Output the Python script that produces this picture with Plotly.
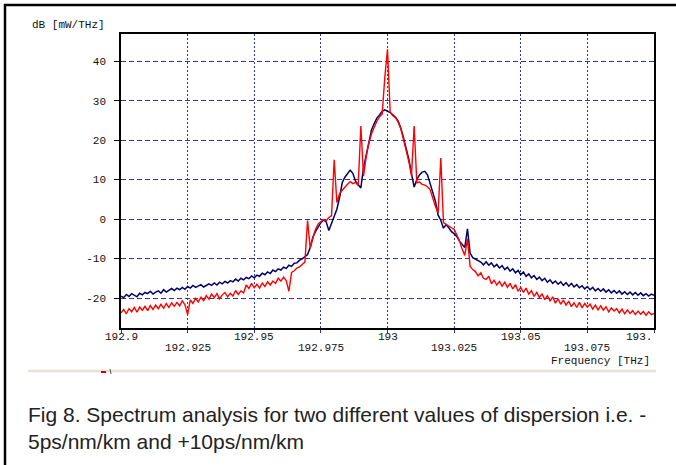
import numpy as np
import plotly.graph_objects as go

# ---------------- data ----------------
# sample grid (THz), 0.001 THz spacing from 192.900 to 193.100
freq_thz = np.round(192.900 + 0.001 * np.arange(201), 3)

# navy trace (dB [mW/THz])
db_navy = [
    -19.5, -19.9, -19.1, -19.6, -18.9, -19.3, -19.7, -18.8, -19.2, -18.6,
    -18.9, -18.3, -19.0, -18.5, -18.2, -18.8, -17.9, -18.5, -18.0, -17.6,
    -18.1, -17.5, -17.9, -17.3, -17.8, -17.1, -17.5, -16.8, -17.3, -17.0,
    -16.6, -17.2, -16.9, -16.4, -16.8, -16.2, -16.7, -16.0, -16.4, -15.8,
    -16.2, -15.6, -15.9, -15.2, -15.7, -15.0, -15.4, -14.8, -15.1, -14.4,
    -14.9, -14.2, -14.5, -13.7, -14.1, -13.4, -13.8, -12.9, -13.3, -12.6,
    -12.9, -12.2, -12.5, -11.7, -12.0, -11.2, -11.1, -10.4, -10.1, -9.5,
    -9.0, -7.2, -4.6, -3.1, -2.0, -0.9, -0.2, -0.7, -2.9, -1.2,
    1.0, 2.5, 5.4, 9.2, 10.6, 11.4, 12.4, 11.6, 9.6, 8.7,
    7.9, 13.0, 16.2, 19.8, 22.6, 24.2, 25.6, 26.4, 27.3, 27.7,
    27.4, 27.0, 26.4, 25.8, 24.8, 23.0, 20.6, 18.2, 15.2, 11.5,
    8.1, 10.0, 11.2, 11.9, 12.1, 11.2, 9.0, 6.8, 4.5, 1.0,
    -0.3, -2.3, -1.4, -2.2, -3.2, -3.7, -4.4, -5.6, -6.3, -7.2,
    -2.5, -8.6, -9.8, -10.2, -10.7, -10.9, -11.6, -10.8, -11.7, -11.1,
    -12.1, -11.5, -12.4, -11.8, -12.8, -12.2, -13.2, -12.6, -13.6, -13.0,
    -14.1, -13.4, -14.5, -13.9, -14.9, -14.3, -15.3, -14.7, -15.6, -15.0,
    -16.0, -15.4, -16.3, -15.7, -16.5, -15.9, -16.8, -16.1, -17.0, -16.3,
    -17.2, -16.6, -17.4, -16.9, -17.7, -17.1, -17.9, -17.3, -18.2, -17.6,
    -18.3, -17.7, -18.5, -17.9, -18.7, -18.1, -18.8, -18.2, -19.0, -18.4,
    -19.1, -18.5, -19.2, -18.6, -19.3, -18.7, -19.4, -18.9, -19.5, -19.0,
    -19.3,
]

# red trace (dB [mW/THz])
db_red = [
    -23.8, -22.9, -24.0, -22.7, -23.5, -22.4, -23.6, -22.3, -23.1, -22.1,
    -23.2, -21.9, -22.9, -21.8, -22.7, -21.6, -22.6, -21.4, -22.4, -21.2,
    -22.1, -21.1, -22.0, -20.7, -21.7, -24.2, -20.5, -21.4, -20.1, -21.0,
    -19.8, -20.7, -19.4, -20.3, -19.0, -19.9, -18.9, -20.2, -19.2, -18.6,
    -19.7, -18.8, -19.5, -18.1, -19.1, -18.2, -18.7, -16.7, -17.6, -16.3,
    -17.4, -16.5, -17.5, -16.2, -17.1, -15.9, -16.7, -15.7, -16.3, -15.0,
    -15.7, -14.7, -15.6, -18.3, -13.5, -13.1, -12.4, -12.1, -11.5, -10.9,
    -0.4, -7.3, -4.8, -2.6, -1.2, -0.7, -0.1, -0.4, 0.4, 0.9,
    15.0, 4.2, 6.4, 7.3, 8.2, 8.8, 9.5, 9.0, 9.3, 8.5,
    23.6, 10.9, 15.8, 19.2, 21.6, 23.4, 24.8, 25.9, 26.6, 36.0,
    43.0, 27.1, 26.2, 25.7, 24.6, 22.9, 20.4, 17.4, 14.6, 11.0,
    23.6, 9.2, 9.4, 8.8, 8.6, 8.2, 7.4, 5.0, 3.2, 1.6,
    15.5, -0.9, -1.4, -1.9, -2.2, -2.6, -3.9, -5.5, -7.6, -9.2,
    -5.0, -12.0, -12.8, -13.3, -14.4, -13.6, -15.0, -15.3, -14.5, -16.4,
    -15.5, -16.7, -15.8, -17.0, -16.0, -17.3, -16.3, -17.7, -16.6, -18.3,
    -17.3, -18.6, -17.5, -19.0, -18.1, -19.6, -18.6, -19.9, -18.9, -20.4,
    -19.4, -20.7, -19.7, -21.3, -20.2, -21.6, -20.5, -21.8, -20.8, -22.2,
    -21.2, -22.4, -21.1, -22.5, -21.4, -22.3, -21.5, -22.8, -21.8, -23.0,
    -22.0, -23.1, -22.2, -23.5, -22.5, -23.3, -22.7, -23.8, -22.8, -24.0,
    -23.0, -23.9, -23.2, -24.2, -23.3, -24.1, -23.4, -24.4, -23.5, -24.2,
    -23.9,
]

x_row1_vals = [192.9, 192.95, 193.0, 193.05]
x_row1_text = ["192.9", "192.95", "193", "193.05"]
x_row2_vals = [192.925, 192.975, 193.025, 193.075]
x_row2_text = ["192.925", "192.975", "193.025", "193.075"]
x_end_val, x_end_text = 193.1, "193."
x_tick_vals = [192.9, 192.925, 192.95, 192.975, 193.0, 193.025, 193.05, 193.075, 193.1]
y_tick_vals = [-20, -10, 0, 10, 20, 30, 40]
y_tick_text = ["-20", "-10", "0", "10", "20", "30", "40"]

y_axis_title = "dB [mW/THz]"
x_axis_title = "Frequency [THz]"
caption = ("Fig 8. Spectrum analysis for two different values of dispersion i.e. -"
           "<br>5ps/nm/km and +10ps/nm/km")

# ---------------- layout geometry ----------------
W, H = 676, 465
L, R, T, B = 121, 22, 34, 137
PW, PH = W - L - R, H - T - B


def px(xp):
    return (xp - L) / PW


def py(yp):
    return (H - B - yp) / PH


mono = "Liberation Mono"
tick_font = dict(family=mono, size=11, color="#111111")
grid_col = "#3535a0"

fig = go.Figure()
fig.add_trace(go.Scatter(x=freq_thz, y=db_navy, mode="lines",
                         line=dict(color="#000066", width=1.5), showlegend=False))
fig.add_trace(go.Scatter(x=freq_thz, y=db_red, mode="lines",
                         line=dict(color="#ff0000", width=1.4), showlegend=False))

annotations = []
for v, t in zip(x_row1_vals, x_row1_text):
    annotations.append(dict(text=t, xref="x", yref="paper", x=v, y=py(337),
                            xanchor="center", yanchor="middle", showarrow=False, font=tick_font))
for v, t in zip(x_row2_vals, x_row2_text):
    annotations.append(dict(text=t, xref="x", yref="paper", x=v, y=py(348),
                            xanchor="center", yanchor="middle", showarrow=False, font=tick_font))
annotations.append(dict(text=x_end_text, xref="x", yref="paper", x=x_end_val, y=py(337),
                        xanchor="right", yanchor="middle", showarrow=False, font=tick_font))
annotations += [
    dict(text=y_axis_title, xref="paper", yref="paper", x=px(30), y=py(25),
         xanchor="left", yanchor="middle", showarrow=False,
         font=dict(family=mono, size=11, color="#111111")),
    dict(text=x_axis_title, xref="paper", yref="paper", x=px(652), y=py(361),
         xanchor="right", yanchor="middle", showarrow=False,
         font=dict(family=mono, size=11, color="#111111")),
    dict(text=caption, xref="paper", yref="paper", x=px(26), y=py(401),
         xanchor="left", yanchor="top", align="left", showarrow=False,
         font=dict(family="Liberation Sans", size=21, color="#222222")),
]

fig.update_layout(
    width=W, height=H,
    margin=dict(l=L, r=R, t=T, b=B, pad=0),
    paper_bgcolor="white", plot_bgcolor="white",
    font=dict(family=mono, size=11, color="#111111"),
    xaxis=dict(
        range=[192.9, 193.1], tickmode="array", tickvals=x_tick_vals, showticklabels=False,
        showgrid=True, gridcolor=grid_col, gridwidth=1, griddash="2px,2px",
        showline=True, linecolor="black", linewidth=1.5, mirror=True,
        ticks="outside", ticklen=3, tickcolor="#333399",
        zeroline=False, fixedrange=True,
    ),
    yaxis=dict(
        range=[-27.6, 46.9], tickmode="array", tickvals=y_tick_vals, ticktext=y_tick_text,
        showgrid=True, gridcolor=grid_col, gridwidth=1, griddash="5px,3px",
        showline=True, linecolor="black", linewidth=1.5, mirror=True,
        ticks="outside", ticklen=5, tickcolor="black", ticklabelstandoff=6,
        tickfont=tick_font,
        zeroline=False, fixedrange=True,
    ),
    annotations=annotations,
    shapes=[
        # outer frame (top & left)
        dict(type="line", xref="paper", yref="paper", x0=px(4), x1=px(676), y0=py(5), y1=py(5),
             line=dict(color="black", width=2.5)),
        dict(type="line", xref="paper", yref="paper", x0=px(5), x1=px(5), y0=py(4), y1=py(465),
             line=dict(color="black", width=2.5)),
        # separator strip
        dict(type="line", xref="paper", yref="paper", x0=px(28), x1=px(656), y0=py(371), y1=py(371),
             line=dict(color="#e6e2d6", width=2.5)),
        dict(type="line", xref="paper", yref="paper", x0=px(101), x1=px(106), y0=py(372), y1=py(372),
             line=dict(color="#cc0000", width=2)),
        dict(type="line", xref="paper", yref="paper", x0=px(110), x1=px(111), y0=py(369), y1=py(374),
             line=dict(color="#555555", width=1)),
    ],
)

fig.write_html("out.html", config={"displayModeBar": False},
               post_script="document.body.style.margin='0';")
